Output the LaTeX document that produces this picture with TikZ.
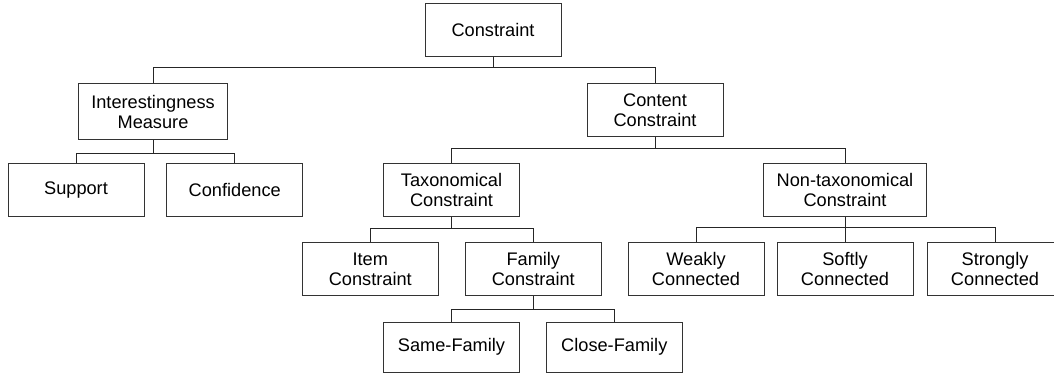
\documentclass[tikz,border=0pt]{standalone}
\usepackage{fontspec}
\setmainfont{Liberation Sans}
\usepackage{tikz}
\tikzstyle{box} = [rectangle, draw=black!80, line width=0.5pt, minimum width=68pt, minimum height=26.5pt, inner xsep=6.5pt, inner ysep=0pt, align=center, font=\fontsize{9.1}{10}\selectfont]
\tikzstyle{link} = [draw=black!85, line width=0.5pt]

\begin{document}
\begin{tikzpicture}[x=0.5pt, y=-0.5pt]
\useasboundingbox (0,0) rectangle (1054,377);
% level 0 and 1
\node (cons) [box] at (493,29.5) {Constraint};
\node (intm) [box, minimum height=28pt] at (153,111.5) {Interestingness\\Measure};
\node (cont) [box] at (655,110) {Content\\Constraint};
% level 2
\node (supp) [box] at (76,190) {Support};
\node (conf) [box] at (234.7,190) {Confidence};
\node (tax) [box] at (451.5,190) {Taxonomical\\Constraint};
\node (ntax) [box] at (845,190) {Non-taxonomical\\Constraint};
% level 3
\node (item) [box] at (370.3,269) {Item\\Constraint};
\node (fam) [box] at (533.3,269) {Family\\Constraint};
\node (weak) [box] at (696,269) {Weakly\\Connected};
\node (soft) [box] at (845,269) {Softly\\Connected};
\node (strong) [box] at (995,269) {Strongly\\Connected};
% level 4
\node (same) [box, minimum height=25pt] at (451.5,347) {Same-Family};
\node (close) [box, minimum height=25pt] at (614.3,347) {Close-Family};

\draw [link] (cons.south) -- ++(0,11) -| (intm.north);
\draw [link] (cons.south) -- ++(0,11) -| (cont.north);
\draw [link] (intm.south) -- ++(0,13) -| (supp.north);
\draw [link] (intm.south) -- ++(0,13) -| (conf.north);
\draw [link] (cont.south) -- ++(0,11) -| (tax.north);
\draw [link] (cont.south) -- ++(0,11) -| (ntax.north);
\draw [link] (tax.south) -- ++(0,11) -| (item.north);
\draw [link] (tax.south) -- ++(0,11) -| (fam.north);
\draw [link] (ntax.south) -- ++(0,10) -| (weak.north);
\draw [link] (ntax.south) -- ++(0,10) -| (soft.north);
\draw [link] (ntax.south) -- ++(0,10) -| (strong.north);
\draw [link] (fam.south) -- ++(0,13) -| (same.north);
\draw [link] (fam.south) -- ++(0,13) -| (close.north);
\end{tikzpicture}
\end{document}
